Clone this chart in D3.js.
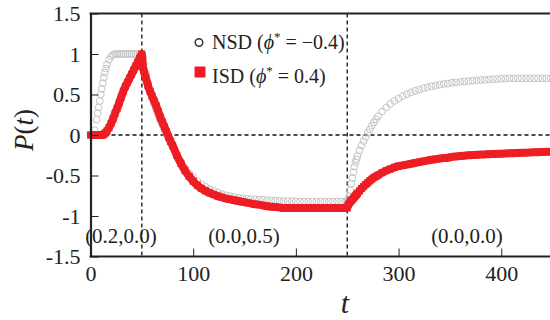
<!DOCTYPE html>
<html>
<head>
<meta charset="utf-8">
<script src="https://cdn.jsdelivr.net/npm/d3@7"></script>
<style>
  body { margin: 0; background: #fff; }
  svg { display: block; }
  svg text { font-family: "Liberation Serif", "Times New Roman", serif; }
</style>
</head>
<body>
<svg id="chart" width="550" height="320"></svg>
<script>
// sample times (shared by both series)
var times = [
  0,2,4,6,7,8,9,10,11,12,13,14,15,16,18,20,22,24,26,28,30,32,34,36,38,40,42,44,46,48,50,
  51,52,54,56,58,60,62,64,66,68,70,72,74,76,78,80,
  84,88,92,96,100,104,108,112,116,120,124,128,132,136,140,144,148,152,156,160,164,168,172,176,180,184,188,192,196,200,
  204,208,212,216,220,224,228,232,236,240,244,248,250,
  251,252,253,254,255,256,257,258,259,260,262,264,266,268,270,272,274,276,278,280,
  284,288,292,296,300,304,308,312,316,320,324,328,332,336,340,344,348,352,356,360,
  364,368,372,376,380,384,388,392,396,400,404,408,412,416,420,424,428,432,436,440,444,448
];

// NSD (phi* = -0.4), open gray circles
var nsdValues = [
  0,0.01,0.06,0.19,0.27,0.34,0.42,0.5,0.57,0.64,0.71,0.77,0.82,0.87,0.93,0.97,0.99,1,1,1,1,1,1,1,1,1,1,1,1,1,1,
  0.95,0.88,0.76,0.65,0.55,0.45,0.38,0.31,0.24,0.18,0.12,0.06,0,-0.05,-0.1,-0.15,
  -0.24,-0.33,-0.41,-0.47,-0.52,-0.57,-0.61,-0.64,-0.67,-0.69,-0.71,-0.73,-0.745,-0.755,-0.765,-0.775,-0.78,-0.785,-0.79,-0.795,-0.8,-0.8,-0.805,-0.81,-0.81,-0.815,-0.815,-0.815,-0.815,-0.82,
  -0.82,-0.82,-0.82,-0.82,-0.82,-0.82,-0.82,-0.82,-0.82,-0.82,-0.82,-0.82,-0.82,
  -0.8,-0.76,-0.68,-0.6,-0.53,-0.46,-0.39,-0.34,-0.3,-0.26,-0.19,-0.13,-0.075,-0.025,0.025,0.07,0.115,0.155,0.195,0.23,
  0.29,0.34,0.385,0.42,0.45,0.48,0.505,0.525,0.545,0.56,0.575,0.59,0.6,0.61,0.62,0.63,0.635,0.645,0.65,0.655,
  0.66,0.665,0.67,0.675,0.68,0.68,0.685,0.69,0.69,0.695,0.695,0.7,0.7,0.7,0.7,0.7,0.7,0.7,0.7,0.7,0.7,0.7
];

// ISD (phi* = 0.4), red squares
var isdValues = [
  0,0,0,0,0,0,0,0,0,0,0.01,0.02,0.03,0.05,0.09,0.14,0.2,0.27,0.33,0.4,0.47,0.54,0.6,0.65,0.7,0.75,0.8,0.85,0.9,0.95,1,
  0.84,0.79,0.7,0.61,0.54,0.48,0.42,0.36,0.29,0.22,0.16,0.1,0.04,-0.02,-0.08,-0.13,
  -0.25,-0.35,-0.44,-0.51,-0.57,-0.62,-0.66,-0.69,-0.715,-0.735,-0.755,-0.77,-0.785,-0.795,-0.805,-0.815,-0.825,-0.835,-0.845,-0.855,-0.86,-0.87,-0.88,-0.885,-0.89,-0.895,-0.9,-0.9,-0.9,-0.9,
  -0.9,-0.9,-0.9,-0.9,-0.9,-0.9,-0.9,-0.9,-0.9,-0.9,-0.9,-0.9,-0.9,
  -0.86,-0.84,-0.825,-0.81,-0.795,-0.78,-0.765,-0.75,-0.735,-0.72,-0.69,-0.66,-0.635,-0.61,-0.59,-0.565,-0.545,-0.525,-0.51,-0.495,
  -0.465,-0.44,-0.42,-0.4,-0.385,-0.375,-0.365,-0.355,-0.345,-0.335,-0.325,-0.315,-0.305,-0.3,-0.29,-0.285,-0.28,-0.27,-0.265,-0.26,
  -0.255,-0.25,-0.248,-0.245,-0.242,-0.24,-0.237,-0.235,-0.232,-0.23,-0.228,-0.226,-0.224,-0.222,-0.22,-0.218,-0.216,-0.214,-0.212,-0.21,-0.208,-0.206
];

var xTicks = [0, 100, 200, 300, 400];
var yTicks = [-1.5, -1, -0.5, 0, 0.5, 1, 1.5];
var switchTimes = [50, 250];
var phaseLabels = ["(0.2,0.0)", "(0.0,0.5)", "(0.0,0.0)"];
var legendNames = ["NSD", "ISD"];
var legendPhi = ["\u22120.4", "0.4"];

var serif = "'Liberation Serif', 'Times New Roman', serif";
var svg = d3.select("#chart");
var x = d3.scaleLinear().domain([0, 450]).range([90.5, 552.6]);
var y = d3.scaleLinear().domain([-1.5, 1.5]).range([256.5, 13.5]);
var red = "#ee1d24";

var nsd = times.map(function(t, i) { return {t: t, p: nsdValues[i]}; });
var isd = times.map(function(t, i) { return {t: t, p: isdValues[i]}; });

// guide lines
svg.append("line")
    .attr("x1", x(0)).attr("x2", 550)
    .attr("y1", y(0)).attr("y2", y(0))
    .attr("stroke", "#111").attr("stroke-width", 1.3).attr("stroke-dasharray", "4,3");
svg.selectAll(".switch")
    .data(switchTimes)
    .enter().append("line")
    .attr("x1", function(d) { return x(d); }).attr("x2", function(d) { return x(d); })
    .attr("y1", y(1.5)).attr("y2", y(-1.5))
    .attr("stroke", "#111").attr("stroke-width", 1.3).attr("stroke-dasharray", "4,3");

// NSD open circles
svg.append("g").selectAll("circle")
    .data(nsd)
    .enter().append("circle")
    .attr("cx", function(d) { return x(d.t); })
    .attr("cy", function(d) { return y(d.p); })
    .attr("r", 3.4)
    .attr("fill", "none")
    .attr("stroke", "#c4c4c4")
    .attr("stroke-width", 1);

// ISD thick band of squares
svg.append("path")
    .datum(isd)
    .attr("fill", "none")
    .attr("stroke", red)
    .attr("stroke-width", 8)
    .attr("stroke-linejoin", "round")
    .attr("d", d3.line().curve(d3.curveMonotoneX)
        .x(function(d) { return x(d.t); }).y(function(d) { return y(d.p); }));
svg.append("g").selectAll("rect")
    .data(isd)
    .enter().append("rect")
    .attr("x", function(d) { return x(d.t) - 3.5; })
    .attr("y", function(d) { return y(d.p) - 3.5; })
    .attr("width", 7).attr("height", 7)
    .attr("fill", red);

// axes
var yAxis = svg.append("g")
    .attr("transform", "translate(" + x(0) + ",0)")
    .call(d3.axisLeft(y).tickValues(yTicks).tickSizeInner(-8).tickSizeOuter(0).tickPadding(10)
        .tickFormat(function(d) { return String(d); }));
var xAxis = svg.append("g")
    .attr("transform", "translate(0," + y(-1.5) + ")")
    .call(d3.axisBottom(x).tickValues(xTicks).tickSizeInner(-8).tickSizeOuter(0).tickPadding(9)
        .tickFormat(function(d) { return String(d); }));
[yAxis, xAxis].forEach(function(a) {
    a.attr("font-family", serif).attr("font-size", 22);
    a.select(".domain").attr("stroke", "#222").attr("stroke-width", 2.2);
    a.selectAll(".tick line").attr("stroke", "#222").attr("stroke-width", 1);
    a.selectAll(".tick text").attr("fill", "#222");
});
xAxis.select(".domain").attr("d", "M" + (x(0) - 1) + ",0H550");
svg.append("line")
    .attr("x1", x(0) - 1).attr("x2", 550)
    .attr("y1", y(1.5)).attr("y2", y(1.5))
    .attr("stroke", "#222").attr("stroke-width", 2.2);

// phase labels
svg.selectAll(".phase")
    .data(phaseLabels)
    .enter().append("text")
    .attr("x", function(d, i) { return [121, 244, 467][i]; })
    .attr("y", 243)
    .attr("text-anchor", "middle")
    .attr("font-family", serif)
    .attr("font-size", 21)
    .attr("fill", "#222")
    .text(function(d) { return d; });

// axis titles
var yl = svg.append("text")
    .attr("transform", "translate(33,130) rotate(-90)")
    .attr("text-anchor", "middle")
    .attr("font-family", serif)
    .attr("font-size", 27)
    .attr("fill", "#222");
yl.append("tspan").attr("font-style", "italic").text("P");
yl.append("tspan").text("(");
yl.append("tspan").attr("font-style", "italic").text("t");
yl.append("tspan").text(")");

svg.append("text")
    .attr("x", 345).attr("y", 313)
    .attr("text-anchor", "middle")
    .attr("font-family", serif)
    .attr("font-size", 30).attr("font-style", "italic")
    .attr("fill", "#222")
    .text("t");

// legend
svg.append("circle")
    .attr("cx", 199).attr("cy", 42.5).attr("r", 3.8)
    .attr("fill", "none").attr("stroke", "#333").attr("stroke-width", 1.5);
svg.append("rect")
    .attr("x", 194.5).attr("y", 66.5).attr("width", 11).attr("height", 11)
    .attr("fill", red);
legendNames.forEach(function(name, i) {
    var t = svg.append("text")
        .attr("x", 212).attr("y", [48.5, 83][i])
        .attr("font-family", serif)
        .attr("font-size", 20)
        .attr("fill", "#222");
    t.append("tspan").text(name + " (");
    t.append("tspan").attr("font-style", "italic").text("\u03d5");
    t.append("tspan").attr("dy", -8).attr("font-size", 13).text("*");
    t.append("tspan").attr("dy", 8).text(" = " + legendPhi[i] + ")");
});
</script>
</body>
</html>
